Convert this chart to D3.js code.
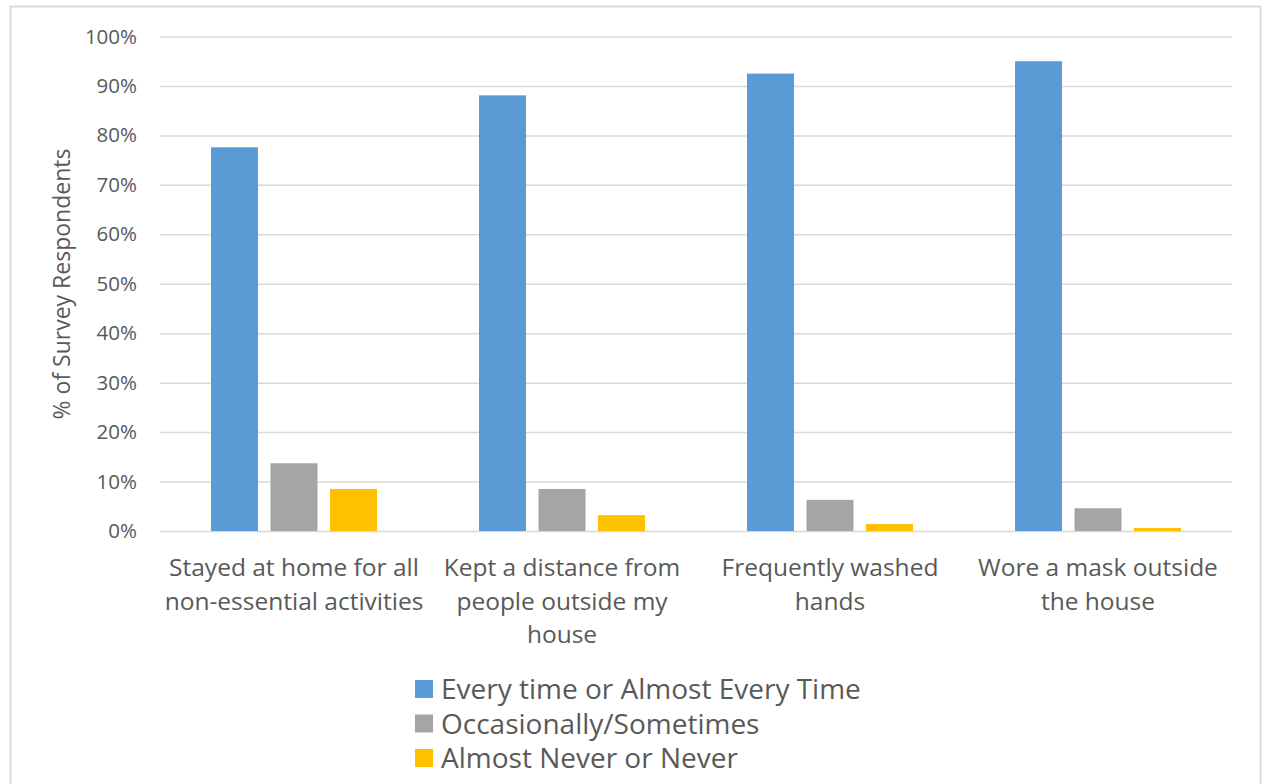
<!DOCTYPE html>
<html>
<head>
<meta charset="utf-8">
<script src="https://cdn.jsdelivr.net/npm/d3@7"></script>
<style>
  body { margin: 0; background: #fff; }
  svg text { font-family: "Open Sans", Lato, sans-serif; fill: #595959; }
</style>
</head>
<body>
<svg id="chart" width="1264" height="784"></svg>
<script>
var categories = [
    ["Stayed at home for all", "non-essential activities"],
    ["Kept a distance from", "people outside my", "house"],
    ["Frequently washed", "hands"],
    ["Wore a mask outside", "the house"]
];
var series_names = ["Every time or Almost Every Time", "Occasionally/Sometimes", "Almost Never or Never"];
var series_colors = ["#5b9bd5", "#a5a5a5", "#ffc000"];
var every_time = [77.6, 88.1, 92.5, 95.0];
var occasionally = [13.7, 8.5, 6.3, 4.6];
var almost_never = [8.5, 3.2, 1.4, 0.6];
var y_ticks = [0, 10, 20, 30, 40, 50, 60, 70, 80, 90, 100];

var svg = d3.select("#chart");

// outer frame
svg.append("rect")
    .attr("x", 10.5).attr("y", 6.5)
    .attr("width", 1250).attr("height", 800)
    .attr("fill", "none")
    .attr("stroke", "#d9d9d9")
    .attr("stroke-width", 2);

var plot = {left: 160, right: 1232, top: 36.5, bottom: 531};

var x = d3.scaleBand()
    .domain(d3.range(categories.length))
    .range([plot.left, plot.right]);

var xs = d3.scaleBand()
    .domain(d3.range(series_names.length))
    .range([x.bandwidth() / 2 - 83, x.bandwidth() / 2 + 83])
    .paddingInner(0.21);

var y = d3.scaleLinear().domain([0, 100]).range([plot.bottom, plot.top]);

// gridlines + tick labels
var yAxis = d3.axisLeft(y)
    .tickValues(y_ticks)
    .tickFormat(function(d) { return d + "%"; })
    .tickSize(-(plot.right - plot.left))
    .tickPadding(23);

var ga = svg.append("g")
    .attr("transform", "translate(" + plot.left + ",0)")
    .call(yAxis);
ga.select(".domain").remove();
ga.selectAll(".tick line").attr("stroke", "#d9d9d9").attr("stroke-width", 1.5);
ga.selectAll(".tick text").attr("font-size", 20.5).style("fill", "#595959")
    .style("font-family", "'Open Sans', sans-serif");

var series = [every_time, occasionally, almost_never];

series.forEach(function(vals, si) {
    svg.append("g").selectAll("rect")
        .data(vals)
        .join("rect")
        .attr("x", function(d, i) { return x(i) + xs(si); })
        .attr("width", xs.bandwidth())
        .attr("y", function(d) { return y(d); })
        .attr("height", function(d) { return y(0) - y(d); })
        .attr("fill", series_colors[si]);
});

// category labels
var cl = svg.append("g");
categories.forEach(function(lines, i) {
    var t = cl.append("text")
        .attr("text-anchor", "middle")
        .attr("font-size", 24.5);
    lines.forEach(function(line, li) {
        t.append("tspan")
            .attr("x", x(i) + x.bandwidth() / 2)
            .attr("y", 576 + li * 33.5)
            .text(line);
    });
});

// y axis title
svg.append("text")
    .attr("transform", "translate(70,284) rotate(-90)")
    .attr("text-anchor", "middle")
    .attr("font-size", 23)
    .text("% of Survey Respondents");

// legend
var lg = svg.append("g").attr("transform", "translate(415,0)");
series_names.forEach(function(name, i) {
    var yy = 689 + i * 34.5;
    lg.append("rect")
        .attr("x", 0).attr("y", yy - 9)
        .attr("width", 18).attr("height", 18)
        .attr("fill", series_colors[i]);
    lg.append("text")
        .attr("x", 26).attr("y", yy + 10)
        .attr("font-size", 28)
        .text(name);
});
</script>
</body>
</html>
